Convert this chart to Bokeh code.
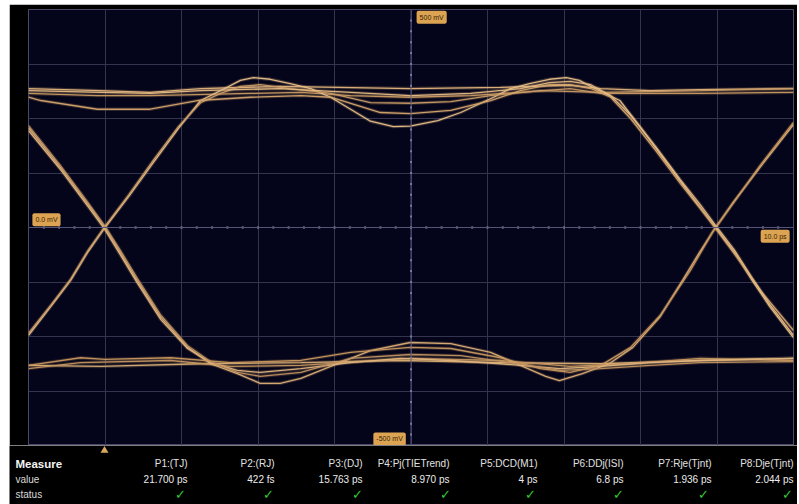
import numpy as np
from bokeh.plotting import figure
from bokeh.models import Range1d, Label, Span, FixedTicker
from bokeh.core.properties import value
from bokeh.embed import file_html
from bokeh.resources import INLINE

# ---------------- data: eye-diagram traces (time in divisions, amplitude in divisions) ----------------
t1_x = [0, 0.94, 1.59, 2.25, 3.29, 4.99, 6.17, 7.08, 7.48, 8.13, 8.78, 10.0]
t1_y = [2.55, 2.51, 2.48, 2.55, 2.59, 2.55, 2.57, 2.61, 2.55, 2.51, 2.53, 2.55]

t2_x = [0, 0.90, 1.59, 2.90, 3.56, 4.21, 4.99, 5.78, 6.43, 7.08, 7.48, 8.78, 10.0]
t2_y = [2.46, 2.42, 2.42, 2.46, 2.48, 2.42, 2.39, 2.42, 2.48, 2.55, 2.46, 2.46, 2.48]

t3_x = [0, 0.94, 2.25, 3.56, 4.86, 6.17, 7.48, 8.78, 10.0]
t3_y = [-2.53, -2.55, -2.50, -2.48, -2.44, -2.48, -2.50, -2.44, -2.40]

t4_x = [0, 0.68, 1.86, 2.64, 3.56, 4.99, 6.17, 7.08, 7.87, 8.78, 10.0]
t4_y = [-2.59, -2.48, -2.44, -2.55, -2.53, -2.40, -2.44, -2.55, -2.50, -2.40, -2.44]

t5_x = [0.00, 0.42, 0.77, 1.00, 1.20, 1.42, 1.73, 2.08, 2.38, 2.73, 3.03, 3.29, 3.56, 3.95, 4.47,
        4.99, 5.52, 6.04, 6.43, 6.76, 6.94, 7.24, 7.59, 7.90, 8.25, 8.55, 8.77, 8.98, 9.20, 9.56, 10.0]
t5_y = [1.83, 1.10, 0.44, 0.00, -0.46, -0.97, -1.65, -2.20, -2.50, -2.68, -2.86, -2.86, -2.77, -2.55, -2.26,
        -2.11, -2.13, -2.29, -2.53, -2.73, -2.81, -2.68, -2.50, -2.20, -1.65, -0.97, -0.46, 0.00, 0.44, 1.10, 1.89]

t6_x = [0.00, 0.29, 0.55, 0.77, 1.00, 1.31, 1.63, 1.96, 2.25, 2.51, 2.77, 2.94, 3.16, 3.42, 3.69, 3.95,
        4.47, 4.77, 4.99, 5.35, 5.65, 6.08, 6.30, 6.55, 6.81, 7.03, 7.20, 7.46, 7.73, 8.01, 8.34, 8.67,
        8.98, 9.23, 9.46, 9.69, 10.0]
t6_y = [-1.98, -1.45, -0.97, -0.46, 0.00, 0.57, 1.19, 1.82, 2.33, 2.51, 2.70, 2.75, 2.72, 2.64, 2.55, 2.39,
        1.95, 1.85, 1.86, 1.96, 2.11, 2.39, 2.55, 2.64, 2.72, 2.75, 2.70, 2.51, 2.33, 1.82, 1.19, 0.57,
        0.00, -0.46, -0.97, -1.45, -2.02]

t7_x = [0.00, 0.29, 0.55, 0.77, 1.00, 1.31, 1.63, 1.96, 2.25, 2.51, 2.77, 3.03, 3.42, 3.95, 4.47,
        4.99, 5.52, 6.04, 6.69, 7.48, 8.78, 10.0]
t7_y = [-1.94, -1.43, -0.95, -0.44, 0.02, 0.60, 1.23, 1.85, 2.29, 2.46, 2.59, 2.62, 2.55, 2.46, 2.29,
        2.28, 2.31, 2.42, 2.51, 2.48, 2.51, 2.55]

t8_x = [0.00, 0.16, 0.90, 1.59, 2.21, 2.90, 3.56, 3.95, 4.60, 4.99, 5.52, 6.04, 6.43, 6.81, 7.08,
        7.35, 7.61, 7.87, 8.20, 8.52, 8.78, 9.02, 9.31, 9.57, 10.0]
t8_y = [2.39, 2.33, 2.17, 2.17, 2.33, 2.39, 2.42, 2.39, 2.11, 2.09, 2.15, 2.33, 2.51, 2.62, 2.62,
        2.55, 2.39, 2.00, 1.41, 0.81, 0.35, -0.09, -0.64, -1.16, -1.89]

t9_x = [0.00, 0.42, 0.77, 1.00, 1.20, 1.42, 1.73, 2.08, 2.38, 2.73, 3.03, 3.56, 4.21, 4.86, 5.52,
        6.17, 6.95, 7.48, 8.13, 8.78, 10.0]
t9_y = [1.78, 1.06, 0.40, -0.04, -0.50, -1.01, -1.69, -2.22, -2.48, -2.62, -2.66, -2.59, -2.48, -2.40, -2.44,
        -2.50, -2.59, -2.55, -2.48, -2.44, -2.40]

t10_x = [0.00, 0.68, 1.00, 1.86, 2.64, 3.56, 4.21, 4.99, 5.52, 6.17, 6.69, 7.08, 7.48, 7.87, 8.26,
         8.65, 8.94, 9.24, 9.57, 10.0]
t10_y = [-2.53, -2.39, -2.42, -2.39, -2.48, -2.44, -2.29, -2.20, -2.22, -2.39, -2.59, -2.66, -2.53, -2.20, -1.61,
         -0.79, -0.09, 0.50, 1.15, 1.93]

t11_x = [0.00, 0.42, 0.77, 1.00, 1.20, 1.42, 1.73, 2.08, 2.38, 2.73, 3.03, 3.56, 4.21, 4.99, 5.65,
         6.30, 6.95, 7.48, 8.13, 8.78, 10.0]
t11_y = [1.87, 1.13, 0.47, 0.02, -0.42, -0.93, -1.61, -2.17, -2.46, -2.66, -2.73, -2.66, -2.40, -2.33, -2.35,
         -2.48, -2.62, -2.59, -2.53, -2.48, -2.46]

t12_x = [0.00, 0.94, 1.59, 2.25, 3.29, 4.21, 4.99, 5.78, 6.43, 6.81, 7.08, 7.35, 7.61, 7.87, 8.20,
         8.52, 8.78, 8.98, 9.23, 9.46, 9.69, 10.0]
t12_y = [2.51, 2.48, 2.46, 2.51, 2.55, 2.48, 2.42, 2.46, 2.55, 2.66, 2.68, 2.62, 2.42, 2.06, 1.48,
         0.88, 0.42, 0.04, -0.42, -0.93, -1.41, -1.98]

# ---------------- data: measurement table ----------------
meas_names = ["P1:(TJ)", "P2:(RJ)", "P3:(DJ)", "P4:Pj(TIETrend)", "P5:DCD(M1)",
              "P6:DDj(ISI)", "P7:Rje(Tjnt)", "P8:Dje(Tjnt)"]
meas_values = ["21.700 ps", "422 fs", "15.763 ps", "8.970 ps", "4 ps", "6.8 ps", "1.936 ps", "2.044 ps"]
meas_status = ["\u2713"] * 8

# ---------------- layout / style ----------------
col_right = [178, 265, 353, 440, 528, 614, 702, 784]
col_check = [171, 259, 348, 436, 521, 609, 694, 778]

traces = [
    (t1_x, t1_y, "#e2b47c"), (t2_x, t2_y, "#c99a62"), (t3_x, t3_y, "#d9ad74"),
    (t4_x, t4_y, "#c4955e"), (t5_x, t5_y, "#dcae76"), (t6_x, t6_y, "#e8bf88"),
    (t7_x, t7_y, "#c89a66"), (t8_x, t8_y, "#d4a46c"), (t9_x, t9_y, "#e0b47e"),
    (t10_x, t10_y, "#c8985e"), (t11_x, t11_y, "#bf9160"), (t12_x, t12_y, "#e6ba82"),
]

p = figure(width=788, height=441, x_range=Range1d(0, 10), y_range=Range1d(-4, 4),
           output_backend="svg", toolbar_location=None,
           x_axis_location=None, y_axis_location=None,
           min_border_left=19, min_border_right=4, min_border_top=5, min_border_bottom=0)
p.background_fill_color = "#04041a"
p.border_fill_color = "black"
p.outline_line_color = "#4a4a68"
p.xgrid.ticker = FixedTicker(ticks=list(range(1, 10)))
p.ygrid.ticker = FixedTicker(ticks=list(range(-3, 4)))
p.grid.grid_line_color = "#34344f"
p.grid.grid_line_width = 1
p.styles = {"position": "absolute", "left": "9px", "top": "4px"}

p.add_layout(Span(location=5, dimension="height", line_color="#55557a", line_width=1))
p.add_layout(Span(location=0, dimension="width", line_color="#55557a", line_width=1))
hx = np.arange(0.2, 10, 0.2)
vy = np.arange(-3.8, 4, 0.2)
p.scatter(hx, np.zeros_like(hx), marker="square", size=2, color="#9a9abb", line_color=None)
p.scatter(np.full_like(vy, 5.0), vy, marker="square", size=2, color="#9a9abb", line_color=None)

for tx, ty, c in traces:
    p.line(tx, ty, line_color=c, line_width=3.4, line_alpha=0.22)
for tx, ty, c in traces:
    p.line(tx, ty, line_color=c, line_width=1.3, line_alpha=0.95)

lab_kw = dict(text_align="center", text_baseline="middle", text_font_size="7px",
              text_font="Liberation Sans", text_color="#3a2206",
              background_fill_color="#dca452", padding=3, border_radius=2)
p.add_layout(Label(x=5.27, y=3.86, text="500 mV", **lab_kw))
p.add_layout(Label(x=4.72, y=-3.88, text="-500 mV", **lab_kw))
p.add_layout(Label(x=0.235, y=0.14, text="0.0 mV", **lab_kw))
p.add_layout(Label(x=9.76, y=-0.16, text="10.0 ps", **lab_kw))

# measurement panel
p2 = figure(width=788, height=59, x_range=Range1d(0, 788), y_range=Range1d(59, 0),
            output_backend="svg", toolbar_location=None,
            x_axis_location=None, y_axis_location=None, min_border=0)
p2.background_fill_color = "black"
p2.border_fill_color = "black"
p2.outline_line_color = None
p2.grid.visible = False
p2.styles = {"position": "absolute", "left": "9px", "top": "445px"}

p2.scatter([95], [5], marker="triangle", size=8, color="#d9a860", line_color=None)
p2.text([6], [18], text=["Measure"], text_font=value("Liberation Sans"), text_font_size="11.5px",
        text_font_style="bold", text_color="#f4f4f4", text_baseline="middle")
p2.text([6, 6], [34, 49], text=["value", "status"], text_font=value("Liberation Sans"),
        text_font_size="10px", text_color="#dadada", text_baseline="middle")
p2.text(col_right, [18] * 8, text=meas_names, text_font=value("Liberation Sans"),
        text_font_size="10px", text_color="#e2e2e2", text_align="right", text_baseline="middle")
p2.text(col_right, [34] * 8, text=meas_values, text_font=value("Liberation Sans"),
        text_font_size="10px", text_color="#ececec", text_align="right", text_baseline="middle")
p2.text(col_check, [49] * 8, text=meas_status, text_font=value("DejaVu Sans"),
        text_font_size="13px", text_font_style="bold", text_color="#34c834",
        text_align="center", text_baseline="middle")

open("out.html", "w").write(file_html([p, p2], INLINE))
